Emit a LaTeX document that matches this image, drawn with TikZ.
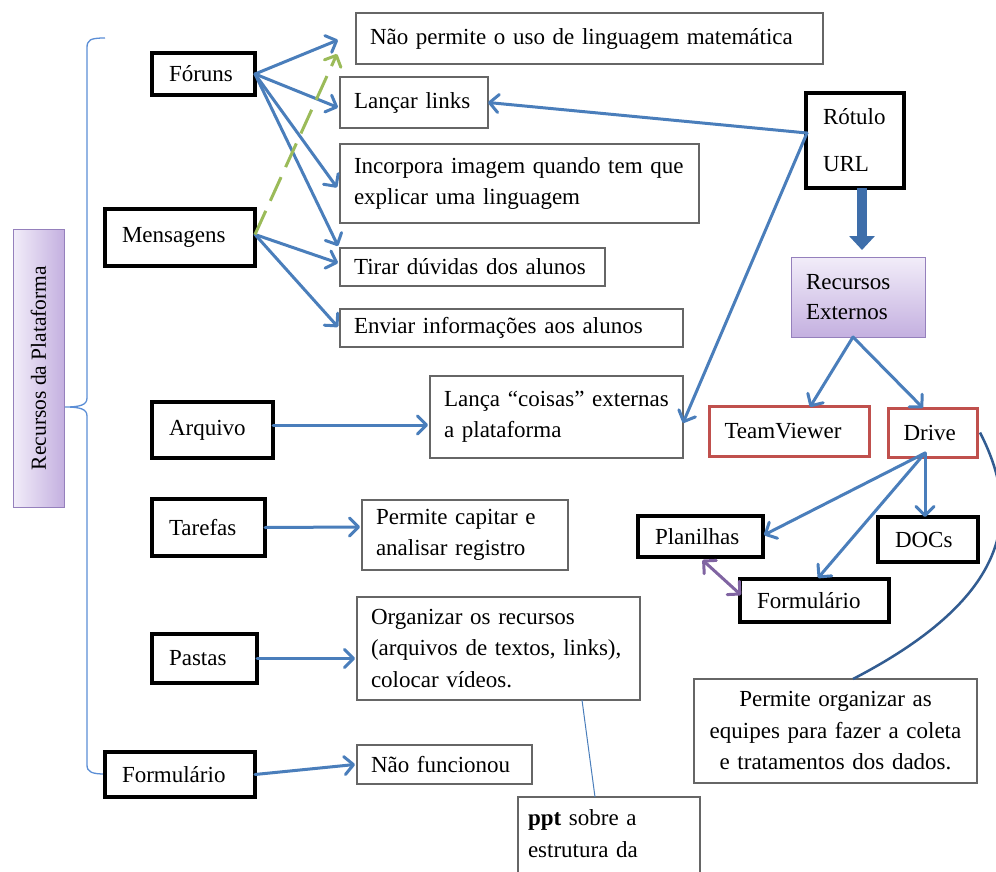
\documentclass[tikz,border=0pt]{standalone}
\usepackage{fontspec}
\setmainfont{Liberation Serif}
\usetikzlibrary{arrows.meta,calc}
\definecolor{conblue}{HTML}{4A7EBB}
\definecolor{dashgreen}{HTML}{9BBB59}
\definecolor{boxred}{HTML}{C0504D}
\definecolor{arrpurple}{HTML}{8064A2}
\definecolor{curveblue}{HTML}{325C91}
\definecolor{blockblue}{HTML}{3E6EAA}
\definecolor{bracecol}{HTML}{5B8ED6}
\definecolor{lavlight}{HTML}{F2EDF9}
\definecolor{lavdark}{HTML}{C4B0E0}
\definecolor{lavborder}{HTML}{9580BC}
\begin{document}
\begin{tikzpicture}[x=1pt,y=-1pt,
  every node/.style={font=\fontsize{23}{31.5}\selectfont, outer sep=0pt},
  thinbox/.style={draw=black!60, line width=1.2pt, fill=white, inner xsep=14pt, inner ysep=0pt, align=left, anchor=north west},
  thickbox/.style={draw=black, line width=3.2pt, fill=white, inner xsep=17pt, inner ysep=0pt, align=left, anchor=north west},
  redbox/.style={draw=boxred, line width=3pt, fill=white, inner xsep=15.5pt, inner ysep=0pt, align=left, anchor=north west},
  conn/.style={draw=conblue, line width=3pt, line cap=round, -{Straight Barb[length=9pt,width=18pt,round]}},
  greenconn/.style={draw=dashgreen, line width=3pt, dash pattern=on 26pt off 11pt, -{Straight Barb[length=9pt,width=18pt,round]}},
  bracestyle/.style={draw=bracecol, line width=1.3pt},
]
\clip (0,0) rectangle (996,872);
\fill[white] (0,0) rectangle (996,872);

% left title box
\node[draw=lavborder, line width=1pt, minimum width=51pt, minimum height=278pt, inner sep=0pt,
      left color=lavlight, right color=lavdark, font=\fontsize{21.5}{26}\selectfont] (recplat) at (38.5,368) {\rotatebox{90}{Recursos da Plataforma}};

% brace
\draw[bracestyle] (105,38) .. controls (90,38) and (87,40) .. (87,48) -- (87,398)
  .. controls (87,405) and (80,407) .. ($(recplat.east)+(1,39)$)
  .. controls (80,407) and (87,409) .. (87,416) -- (87,765)
  .. controls (87,772) and (92,774) .. (105,774);

% left thick boxes
\node[thickbox, text width=69pt, minimum height=42pt] (foruns) at (152,53) {Fóruns};
\node[thickbox, text width=116pt, minimum height=57pt] (mensagens) at (105,209) {Mensagens};
\node[thickbox, text width=87pt, minimum height=56pt] (arquivo) at (152,402) {Arquivo};
\node[thickbox, text width=79pt, minimum height=57pt] (tarefas) at (152,499) {Tarefas};
\node[thickbox, text width=71pt, minimum height=49pt] (pastas) at (152,634) {Pastas};
\node[thickbox, text width=116pt, minimum height=45pt] (formL) at (105,752) {Formulário};

% thin text boxes
\node[thinbox, text width=439pt, minimum height=51pt] (naopermite) at (356,13) {Não permite o uso de linguagem matemática};
\node[thinbox, text width=120pt, minimum height=51pt] (lancar) at (340,77) {Lançar links};
\node[thinbox, text width=331pt, minimum height=79pt] (incorpora) at (340,144) {Incorpora imagem quando tem que\\explicar uma linguagem};
\node[thinbox, text width=237pt, minimum height=38pt] (tirar) at (340,248) {Tirar dúvidas dos alunos};
\node[thinbox, text width=315pt, minimum height=38pt] (enviar) at (340,309) {Enviar informações aos alunos};
\node[thinbox, text width=225pt, minimum height=82pt] (lanca) at (430,376) {Lança “coisas” externas\\a plataforma};
\node[thinbox, text width=178pt, minimum height=70pt] (capitar) at (362,500) {Permite capitar e\\analisar registro};
\node[thinbox, text width=255pt, minimum height=103pt] (organizar) at (357,597) {Organizar os recursos\\(arquivos de textos, links),\\colocar vídeos.};
\node[thinbox, text width=147pt, minimum height=39pt] (naofunc) at (357,745) {Não funcionou};
\node[thinbox, inner xsep=10pt, inner ysep=13pt, text width=162pt, text depth=60pt] (ppt) at (518,797) {\textbf{ppt} sobre a\\estrutura da};

% right side
\node[thickbox, text width=64pt, minimum height=95pt] (rotulo) at (806,93) {Rótulo\\[15.5pt]URL};
\node[draw=lavborder, line width=1pt, anchor=north west, minimum width=134pt, minimum height=80pt, inner xsep=15pt, inner ysep=0pt,
      text width=104pt, align=left, top color=lavlight, bottom color=lavdark, font=\fontsize{23}{30}\selectfont] (recext) at (791,257) {Recursos\\Externos};
\node[redbox, text width=129pt, minimum height=50pt] (teamviewer) at (709,406) {TeamViewer};
\node[redbox, text width=58pt, minimum height=49pt] (drive) at (888,408) {Drive};
\node[thickbox, text width=91pt, minimum height=41pt] (planilhas) at (638,516) {Planilhas};
\node[thickbox, text width=66pt, minimum height=45pt] (docs) at (878,517) {DOCs};
\node[thickbox, text width=115pt, minimum height=43pt] (formR) at (740,579) {Formulário};
\node[thinbox, align=center, text width=255pt, minimum height=104pt] (permorg) at (694,679) {Permite organizar as\\equipes para fazer a coleta\\e tratamentos dos dados.};

% connectors
\draw[conn] (foruns.east) -- ($(naopermite.west)+(-18,1.5)$);
\draw[conn] (foruns.east) -- ($(lancar.west)+(-2,5)$);
\draw[conn] (foruns.east) -- ($(incorpora.west)+(-3,4)$);
\draw[conn] (foruns.east) -- ($(tirar.north west)+(-2,-2)$);
\draw[conn] ($(mensagens.east)+(0,-3)$) -- ($(tirar.west)+(-2,-4)$);
\draw[conn] ($(mensagens.east)+(0,-3)$) -- ($(enviar.west)+(-2,-1)$);
\draw[greenconn] ($(mensagens.east)+(0,-3)$) -- ($(naopermite.south west)+(-19,-10)$);

\coordinate (rotout) at ($(rotulo.west)+(1,-7.5)$);
\draw[conn] (rotout) -- (lancar.east);
\draw[conn] (rotout) -- ($(lanca.east)+(0,6)$);

\draw[conn] ($(arquivo.east)+(0,-5)$) -- ($(lanca.west)+(-2,8)$);
\draw[conn] (tarefas.east) -- ($(capitar.west)+(-2,-8)$);
\draw[conn] (pastas.east) -- ($(organizar.west)+(-2,10)$);
\draw[conn] (formL.east) -- ($(naofunc.west)+(-2,0)$);

% block arrow
\draw[draw=blockblue, line width=10pt, -{Triangle[length=14pt,width=25pt]}] ($(rotulo.south)+(7,0)$) -- ($(recext.north)+(4,-7)$);

\draw[conn] ($(recext.south)+(-5,0)$) -- ($(teamviewer.north)+(21,1)$);
\draw[conn] ($(recext.south)+(-5,0)$) -- ($(drive.north)+(-9.5,0)$);

\coordinate (drout) at ($(drive.south)+(-7.5,-4)$);
\draw[conn] (drout) -- ($(planilhas.east)+(1,-1.5)$);
\draw[conn] (drout) -- ($(formR.north)+(3.5,-1)$);
\draw[conn] (drout) -- ($(docs.north)+(-3,0)$);

\draw[draw=arrpurple, line width=3pt, {Straight Barb[length=9pt,width=18pt,round]}-{Straight Barb[length=9pt,width=18pt,round]}]
  ($(planilhas.south)+(2,3)$) -- ($(formR.west)+(1,-5.5)$);

\draw[draw=curveblue, line width=2.5pt] ($(drive.east)+(3,0)$) .. controls (1025,520) and (1005,600) .. ($(permorg.north)+(17.5,0)$);

\draw[draw=conblue, line width=1pt] ($(organizar.south)+(83.5,0)$) -- ($(ppt.north)+(-14,0)$);

\end{tikzpicture}
\end{document}
